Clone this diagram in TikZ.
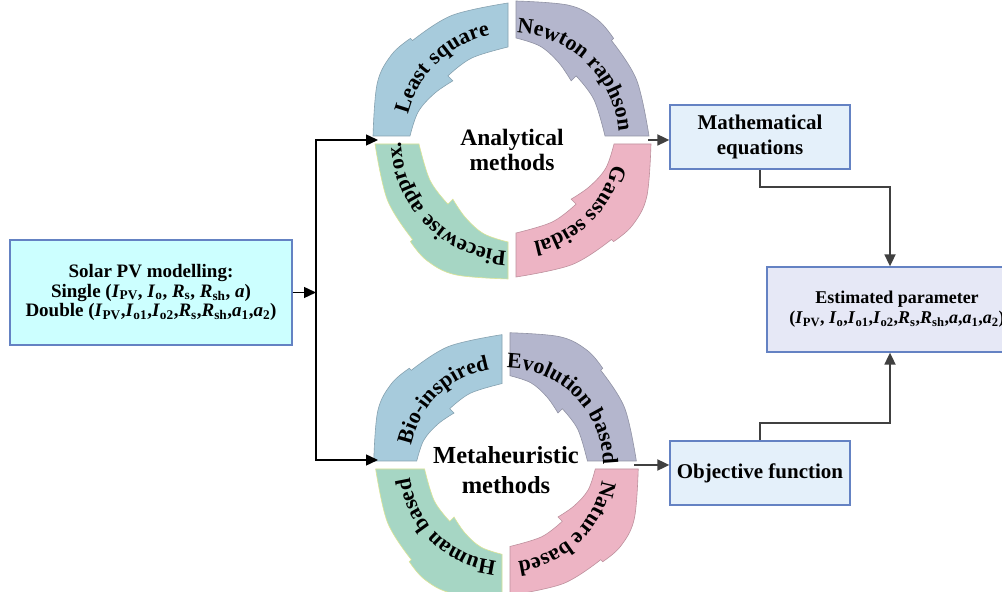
\documentclass[tikz,border=0pt]{standalone}
\usepackage{fontspec}
\setmainfont{Liberation Serif}
\usetikzlibrary{arrows.meta,decorations.text}
\definecolor{cblue}{RGB}{167,203,220}
\definecolor{cpurp}{RGB}{180,182,205}
\definecolor{cpink}{RGB}{237,180,196}
\definecolor{cgreen}{RGB}{166,214,196}
\definecolor{gline}{RGB}{220,228,150}
\definecolor{pvfill}{RGB}{204,255,255}
\definecolor{boxfill}{RGB}{228,240,250}
\definecolor{estfill}{RGB}{230,232,246}
\definecolor{boxline}{RGB}{100,130,195}
\definecolor{garrow}{RGB}{64,64,64}
\newcommand\ringfont{\fontsize{22}{22}\selectfont\bfseries}
% #1 cx, #2 cy, #3 rotation, #4 fill, #5 draw, #6 outer scale, #7 inner scale
\newcommand\piece[7]{%
\begin{scope}[shift={(#1,#2)}, rotate=#3, shift={(-4,4)}]
\fill[fill=#4, draw=#5, line width=0.6pt]
 plot[smooth, tension=0.6] coordinates {(180:{135*#6}) (158:{141*#6}) (145:{142*#6}) (135:{138*#6})}
 -- plot[smooth, tension=0.6] coordinates {(135:{135*#6}) (115:{133*#6}) (90:{133*#6})}
 -- plot[smooth, tension=0.6] coordinates {(90:{89*#7}) (115:{86*#7}) (135:{85*#7})}
 -- plot[smooth, tension=0.6] coordinates {(135:{78*#7}) (150:{85*#7}) (165:{93*#7}) (180:{98*#7})}
 -- cycle;
\end{scope}}
% #1 cx, #2 cy, #3 centre angle, #4 radius, #5 text
\newcommand\arctext[5]{%
\begin{scope}[shift={(#1,#2)}]
\path[decorate, decoration={text along path, text align=center, text={|\ringfont|#5}}]
 (#3+80:#4) arc[start angle=#3+80, end angle=#3-80, radius=#4];
\end{scope}}
\newcommand\Iv[1]{\textit{I}\textsubscript{#1}}
\newcommand\Rv[1]{\textit{R}\textsubscript{#1}}
\newcommand\av[1]{\textit{a}\textsubscript{#1}}
\tikzset{
 box/.style={draw=boxline, line width=1.3pt, align=center, inner sep=0pt},
 karr/.style={draw=black, line width=1.4pt, -{Triangle[length=12pt,width=11pt]}},
 garr/.style={draw=garrow, line width=1.8pt, -{Triangle[length=12pt,width=11pt]}},
}
\begin{document}
\begin{tikzpicture}[x=1pt,y=1pt]
\useasboundingbox (0,0) rectangle (1002,592);
\clip (0,0) rectangle (1002,592);
\fill[white] (0,0) rectangle (1002,592);
% top ring
\piece{512}{452}{0}{cblue}{cblue!80!black}{1}{1}
\piece{512}{452}{-90}{cpurp}{cpurp!80!black}{1}{1}
\piece{512}{452}{-180}{cpink}{cpink!80!black}{1}{1}
\piece{512}{452}{90}{cgreen}{gline}{1}{1}
\arctext{512}{452}{134}{107}{Least square}
\arctext{512}{452}{46}{107}{Newton raphson}
\arctext{512}{452}{-46}{104}{Gauss seidal}
\arctext{512}{452}{-136}{111}{Piecewise approx.}
\node[font=\fontsize{23.5}{25}\selectfont\bfseries, align=center] (ana) at (512,442.5) {Analytical\\methods};
% bottom ring
\piece{506}{127}{0}{cblue}{cblue!80!black}{0.95}{0.87}
\piece{506}{127}{-90}{cpurp}{cpurp!80!black}{0.95}{0.87}
\piece{506}{127}{-180}{cpink}{cpink!80!black}{0.95}{0.87}
\piece{506}{127}{90}{cgreen}{gline}{0.95}{0.87}
\arctext{506}{127}{134}{97}{Bio-inspired}
\arctext{506}{127}{45}{97}{Evolution based}
\arctext{506}{127}{-46}{97}{Nature based}
\arctext{506}{127}{-134}{97}{Human based}
\node[font=\fontsize{24.5}{30}\selectfont\bfseries, align=center] (meta) at (506,122) {Metaheuristic\\methods};
% boxes
\node[box, fill=pvfill, minimum width=282pt, minimum height=105pt, font=\fontsize{19}{19.5}\selectfont\bfseries] (pv) at (151,299.5)
 {Solar PV modelling:\\Single (\Iv{PV}, \Iv{o}, \Rv{s}, \Rv{sh}, \textit{a})\\Double (\Iv{PV},\Iv{o1},\Iv{o2},\Rv{s},\Rv{sh},\av{1},\av{2})};
\node[box, fill=boxfill, minimum width=180pt, minimum height=64pt, font=\fontsize{21}{25}\selectfont\bfseries] (math) at (760,455) {Mathematical\\equations};
\node[box, fill=boxfill, minimum width=180pt, minimum height=64pt, font=\fontsize{21}{25}\selectfont\bfseries] (obj) at (760,119) {Objective function};
\node[box, fill=estfill, minimum width=260pt, minimum height=85pt, font=\fontsize{18}{20}\selectfont\bfseries] (est) at (897,282.5)
 {Estimated parameter\\(\Iv{PV}, \Iv{o},\Iv{o1},\Iv{o2},\Rv{s},\Rv{sh},\textit{a},\av{1},\av{2})};
% ports
\coordinate (ra-w) at (378,452);
\coordinate (ra-e) at (648,452);
\coordinate (rb-w) at (378,132);
\coordinate (rb-e) at (634,127);
\coordinate (j) at (316,299.5);
\coordinate (t1) at (890,405);
\coordinate (t2) at (890,169);
% connectors
\draw[karr] (pv.east) -- (j);
\draw[karr] (j) |- (ra-w);
\draw[karr] (j) |- (rb-w);
\draw[garr] (ra-e) -- (ra-e -| math.west);
\draw[garr] (rb-e) -- (rb-e -| obj.west);
\draw[garr] (math.south) |- (t1) -- (t1 |- est.north);
\draw[garr] (obj.north) |- (t2) -- (t2 |- est.south);
\end{tikzpicture}
\end{document}
